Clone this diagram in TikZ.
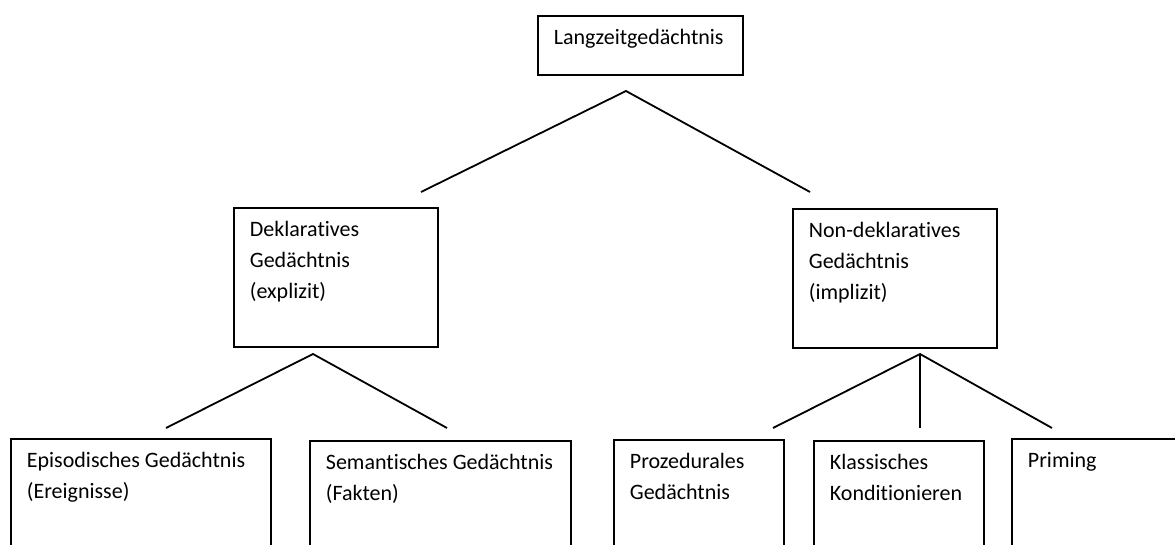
\documentclass[tikz,border=0pt]{standalone}
\usepackage{fontspec}
\setmainfont{Carlito}[Ligatures=NoCommon]
% box contents: inner width, inner height, lines of text (first baseline 29pt below the top)
\newcommand\boxtext[3]{\parbox[t][#2pt][t]{#1pt}{\raggedright\rule{0pt}{29pt}#3}}
\begin{document}
\begin{tikzpicture}[x=1pt,y=-1pt,
  box/.style={draw=black, line width=1.8pt, inner xsep=16pt, inner ysep=0pt,
    anchor=north west, text=black, font=\fontsize{22}{31}\selectfont},
  link/.style={draw=black, line width=1.8pt}]
\useasboundingbox (0,0) rectangle (1175,545);
\clip (0,0) rectangle (1175,545);

% top level
\node[box] (lz) at (537,15) {\boxtext{173}{59}{Langzeitgedächtnis}};

% second level
\node[box] (dek) at (233,207) {\boxtext{172}{139}{Deklaratives\\Gedächtnis\\(explizit)}};
\node[box] (non) at (792,208) {\boxtext{172}{139}{Non-deklaratives\\Gedächtnis\\(implizit)}};

% third level (boxes run past the lower edge)
\node[box] (epi) at (10,438)   {\boxtext{228}{140}{Episodisches Gedächtnis\\(Ereignisse)}};
\node[box] (sem) at (309,440)  {\boxtext{229}{140}{Semantisches Gedächtnis\\(Fakten)}};
\node[box] (pro) at (613,439)  {\boxtext{138}{140}{Prozedurales\\Gedächtnis}};
\node[box] (kla) at (813,440)  {\boxtext{138}{140}{Klassisches\\Konditionieren}};
\node[box] (pri) at (1011,438) {\boxtext{200}{140}{Priming}};

% branching points and line ends
\coordinate (lz-fork)  at (626,91);
\coordinate (dek-in)   at (421,192);
\coordinate (non-in)   at (810,192);
\coordinate (dek-fork) at (313,354);
\coordinate (epi-in)   at (166,428);
\coordinate (sem-in)   at (447,428);
\coordinate (non-fork) at (920,354);
\coordinate (pro-in)   at (773,428);
\coordinate (kla-in)   at (920,428);
\coordinate (pri-in)   at (1052,428);

\draw[link] (dek-in) -- (lz-fork) -- (non-in);
\draw[link] (epi-in) -- (dek-fork) -- (sem-in);
\draw[link] (pro-in) -- (non-fork) -- (pri-in);
\draw[link] (non-fork) -- (kla-in);
\end{tikzpicture}
\end{document}
